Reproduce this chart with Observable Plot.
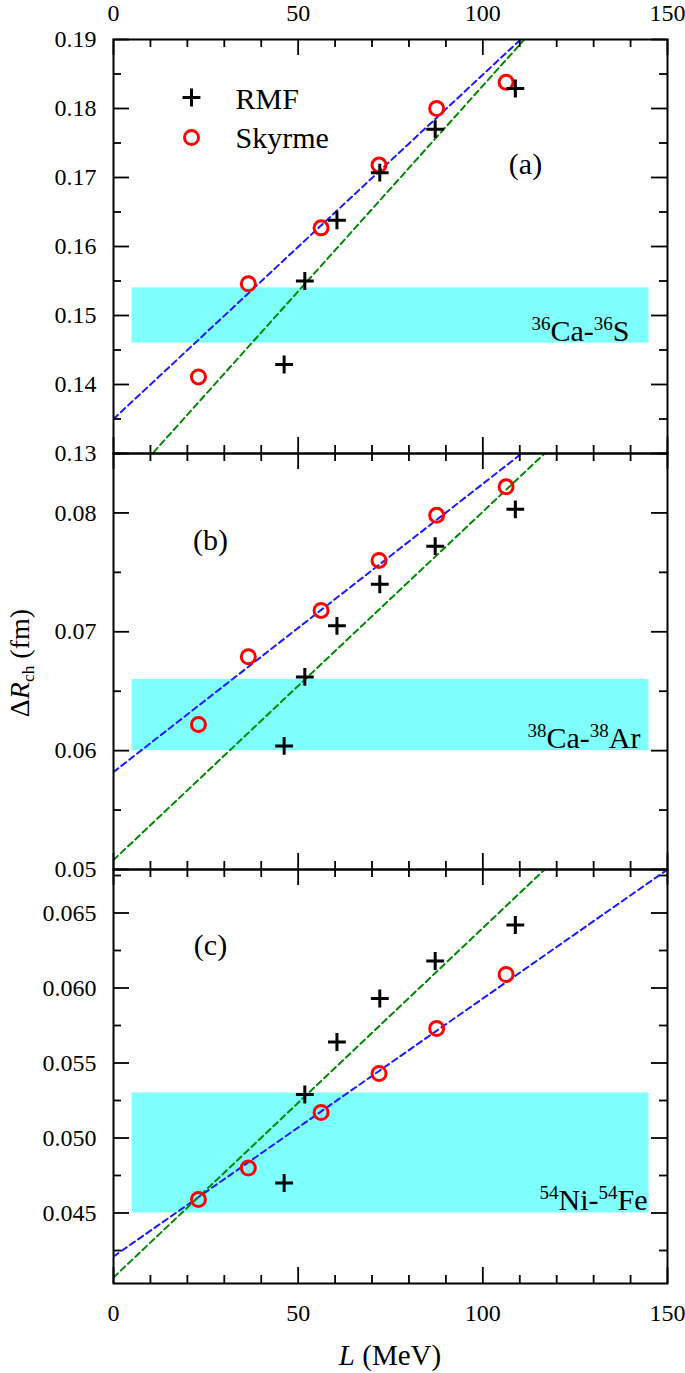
<!DOCTYPE html>
<html><head><meta charset="utf-8">
<script src="https://cdn.jsdelivr.net/npm/d3@7"></script>
<script src="https://cdn.jsdelivr.net/npm/@observablehq/plot@0.6"></script>
<style>
body{margin:0;background:#fff;}
#wrap{position:relative;width:685px;height:1373px;font-family:"Liberation Serif","Times New Roman",serif;color:#000;}
.panel{position:absolute;left:0;}
.panel svg{overflow:visible;}
#ytitle{position:absolute;left:20px;top:663px;transform:translate(-50%,-50%) rotate(-90deg);font-size:28px;white-space:nowrap;line-height:1;}
#ytitle sub{font-size:0.62em;vertical-align:-0.3em;line-height:0;}
#xtitle{position:absolute;left:390px;top:1355px;transform:translate(-50%,-50%);font-size:29px;white-space:nowrap;line-height:1;}
</style></head><body>
<div id="wrap">
  <div id="ytitle">&Delta;<i>R</i><sub>ch</sub> (fm)</div>
  <div id="xtitle"><i>L</i> (MeV)</div>
</div>
<script>
// ---- data ----
const L_RMF = [46.2, 51.8, 60.5, 72.1, 87.1, 108.8];
const L_SKY = [23.0, 36.5, 56.2, 71.9, 87.5, 106.3];
const dR_a_RMF = [0.1429, 0.1550, 0.1638, 0.1707, 0.1770, 0.1829];
const dR_a_SKY = [0.1411, 0.1546, 0.1627, 0.1718, 0.1800, 0.1838];
const dR_b_RMF = [0.0604, 0.0662, 0.0705, 0.0740, 0.0772, 0.0803];
const dR_b_SKY = [0.0622, 0.0679, 0.0718, 0.0760, 0.0798, 0.0822];
const dR_c_RMF = [0.0470, 0.0529, 0.0564, 0.0593, 0.0618, 0.0642];
const dR_c_SKY = [0.0459, 0.0480, 0.0517, 0.0543, 0.0573, 0.0609];
// linear fits: [Skyrme, RMF]
const fitIntercept_a = [0.1350, 0.1237], fitSlope_a = [0.000499, 0.000596];
const fitIntercept_b = [0.0582, 0.0508], fitSlope_b = [0.0002425, 0.000293];
const fitIntercept_c = [0.0421, 0.0407], fitSlope_c = [0.000172, 0.000233];
// experimental bands
const bandL = [5, 145];
const band_a = [0.146, 0.154];
const band_b = [0.060, 0.066];
const band_c = [0.045, 0.053];
// axes
const xDomain = [0, 150];
const xMajor = [0, 50, 100, 150];
const xMinor = [10, 20, 30, 40, 60, 70, 80, 90, 110, 120, 130, 140];
const yDomain_a = [0.13, 0.19];
const yMajor_a = [0.13, 0.14, 0.15, 0.16, 0.17, 0.18, 0.19];
const yMinor_a = [0.135, 0.145, 0.155, 0.165, 0.175, 0.185];
const yDomain_b = [0.05, 0.085];
const yMajor_b = [0.05, 0.06, 0.07, 0.08];
const yMinor_b = [0.055, 0.065, 0.075, 0.085];
const yDomain_c = [0.0403, 0.0679];
const yMajor_c = [0.045, 0.050, 0.055, 0.060, 0.065];
const yMinor_c = [0.0425, 0.0475, 0.0525, 0.0575, 0.0625, 0.0675];
const seriesNames = ["RMF", "Skyrme"];
const pairLabels = ["^36^Ca-^36^S", "^38^Ca-^38^Ar", "^54^Ni-^54^Fe"];
const panelTags = ["(a)", "(b)", "(c)"];

// ---- style ----
const W = 685, ML = 113, MR = 18;
const PW = W - ML - MR;
const BLUE = "#1a1aff", GREEN = "#008a00", RED = "#ff0000", CYAN = "#80ffff";
const MAJ = 16, MIN = 8;
const PLUS_R = 5.8, CIRC_R = 7;
const FONT = "'Liberation Serif', 'Times New Roman', serif";

function fitLine(a, b) { return xDomain.map(x => ({x, y: a + b * x})); }

function superscriptify(svg) {
  d3.select(svg).selectAll("text").each(function () {
    const t = this.textContent;
    if (!t.includes("^")) return;
    const el = d3.select(this);
    el.text(null);
    let shifted = false;
    t.split("^").forEach((p, i) => {
      if (!p) return;
      const sup = i % 2 === 1;
      const ts = el.append("tspan").text(p);
      if (sup) { ts.attr("font-size", "19px"); if (!shifted) { ts.attr("dy", "-11"); shifted = true; } }
      else if (shifted) { ts.attr("dy", "11"); shifted = false; }
    });
  });
}

function panel(cfg) {
  const PH = cfg.ph;
  const marks = [
    Plot.rect([0], {x1: bandL[0], x2: bandL[1], y1: cfg.band[0], y2: cfg.band[1], fill: CYAN}),
    Plot.line(fitLine(cfg.fa[0], cfg.fs[0]), {x: "x", y: "y", stroke: BLUE, strokeWidth: 2, strokeDasharray: "6,4", clip: true}),
    Plot.line(fitLine(cfg.fa[1], cfg.fs[1]), {x: "x", y: "y", stroke: GREEN, strokeWidth: 2, strokeDasharray: "6,4", clip: true}),
    Plot.dot(L_SKY, {x: L_SKY, y: cfg.sky, r: CIRC_R, stroke: RED, strokeWidth: 3, fill: "none"}),
    Plot.dot(L_RMF, {x: L_RMF, y: cfg.rmf, symbol: "plus", r: PLUS_R, stroke: "black", strokeWidth: 3}),
    // ticks inside the frame
    Plot.ruleY(cfg.yMajor, {y: d => d, insetRight: PW - MAJ, stroke: "black", strokeWidth: 1.8}),
    Plot.ruleY(cfg.yMinor, {y: d => d, insetRight: PW - MIN, stroke: "black", strokeWidth: 1.8}),
    Plot.ruleY(cfg.yMajor, {y: d => d, insetLeft: PW - MAJ, stroke: "black", strokeWidth: 1.8}),
    Plot.ruleY(cfg.yMinor, {y: d => d, insetLeft: PW - MIN, stroke: "black", strokeWidth: 1.8}),
    Plot.ruleX(xMajor, {x: d => d, insetBottom: PH - MAJ, stroke: "black", strokeWidth: 1.8}),
    Plot.ruleX(xMinor, {x: d => d, insetBottom: PH - MIN, stroke: "black", strokeWidth: 1.8}),
    Plot.ruleX(xMajor, {x: d => d, insetTop: PH - MAJ, stroke: "black", strokeWidth: 1.8}),
    Plot.ruleX(xMinor, {x: d => d, insetTop: PH - MIN, stroke: "black", strokeWidth: 1.8}),
    Plot.frame({stroke: "black", strokeWidth: 2}),
    Plot.axisY(cfg.yLabels, {tickSize: 0, tickPadding: 17, tickFormat: cfg.fmt, fontSize: 24, label: null}),
    Plot.text([cfg.pair], {text: d => d, frameAnchor: "top-left", dx: cfg.pairPos[0], dy: cfg.pairPos[1], textAnchor: "end", lineAnchor: "bottom", fontSize: 30}),
    Plot.text([cfg.tag], {text: d => d, frameAnchor: "top-left", dx: cfg.tagPos[0], dy: cfg.tagPos[1], textAnchor: "middle", lineAnchor: "bottom", fontSize: 30})
  ];
  if (cfg.xTop) marks.push(Plot.axisX(xMajor, {anchor: "top", tickSize: 0, tickPadding: 19, fontSize: 24, label: null}));
  if (cfg.xBottom) marks.push(Plot.axisX(xMajor, {anchor: "bottom", tickSize: 0, tickPadding: 20, fontSize: 24, label: null}));
  if (cfg.legend) {
    marks.push(
      Plot.dot([0], {frameAnchor: "top-left", dx: 78, dy: 58, symbol: "plus", r: PLUS_R, stroke: "black", strokeWidth: 3}),
      Plot.dot([0], {frameAnchor: "top-left", dx: 78, dy: 98, r: CIRC_R, stroke: RED, strokeWidth: 3, fill: "none"}),
      Plot.text([seriesNames[0]], {text: d => d, frameAnchor: "top-left", dx: 122, dy: 69, textAnchor: "start", lineAnchor: "bottom", fontSize: 30}),
      Plot.text([seriesNames[1]], {text: d => d, frameAnchor: "top-left", dx: 122, dy: 108, textAnchor: "start", lineAnchor: "bottom", fontSize: 30})
    );
  }
  const svg = Plot.plot({
    width: W, height: cfg.mt + PH + cfg.mb,
    marginLeft: ML, marginRight: MR, marginTop: cfg.mt, marginBottom: cfg.mb,
    x: {domain: xDomain, axis: null},
    y: {domain: cfg.yDomain, axis: null},
    style: {fontFamily: FONT, background: "transparent", color: "black", overflow: "visible"},
    marks
  });
  superscriptify(svg);
  const div = document.createElement("div");
  div.className = "panel";
  div.style.top = cfg.top + "px";
  div.appendChild(svg);
  document.getElementById("wrap").appendChild(div);
}

panel({top: 0, mt: 39, ph: 414, mb: 20, yDomain: yDomain_a, yMajor: yMajor_a, yMinor: yMinor_a, yLabels: yMajor_a,
  fmt: d3.format(".2f"), rmf: dR_a_RMF, sky: dR_a_SKY, fa: fitIntercept_a, fs: fitSlope_a, band: band_a,
  pair: pairLabels[0], pairPos: [516, 301], tag: panelTags[0], tagPos: [412, 134], xTop: true, legend: true});
panel({top: 433, mt: 20, ph: 416, mb: 20, yDomain: yDomain_b, yMajor: yMajor_b, yMinor: yMinor_b, yLabels: yMajor_b,
  fmt: d3.format(".2f"), rmf: dR_b_RMF, sky: dR_b_SKY, fa: fitIntercept_b, fs: fitSlope_b, band: band_b,
  pair: pairLabels[1], pairPos: [527, 294], tag: panelTags[1], tagPos: [97, 96]});
panel({top: 849, mt: 20, ph: 414, mb: 90, yDomain: yDomain_c, yMajor: yMajor_c, yMinor: yMinor_c, yLabels: yMajor_c,
  fmt: d3.format(".3f"), rmf: dR_c_RMF, sky: dR_c_SKY, fa: fitIntercept_c, fs: fitSlope_c, band: band_c,
  pair: pairLabels[2], pairPos: [534, 340], tag: panelTags[2], tagPos: [97, 85], xBottom: true});
</script>
</body></html>
